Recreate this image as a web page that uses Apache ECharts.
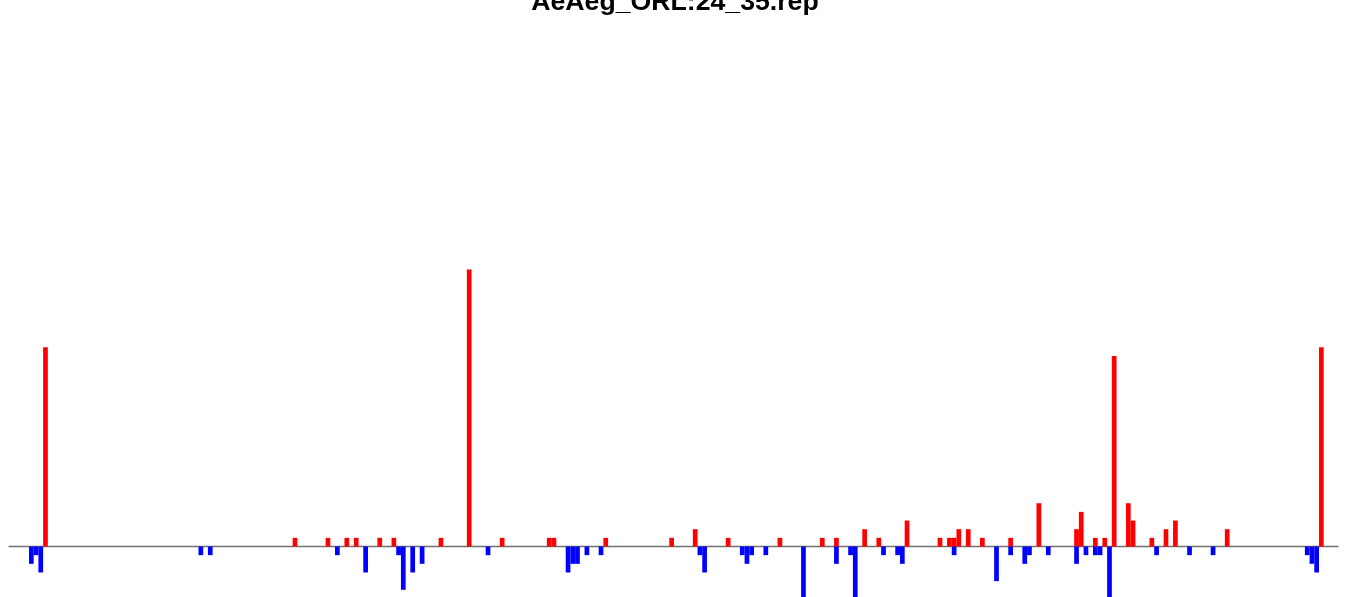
<!DOCTYPE html>
<html>
<head>
<meta charset="utf-8">
<script src="https://cdn.jsdelivr.net/npm/echarts@6/dist/echarts.min.js"></script>
<style>
html,body{margin:0;padding:0;background:#fff;}
#chart{width:1350px;height:597px;}
</style>
</head>
<body>
<div id="chart"></div>
<script>
// Chart data (positions along the sequence, counts)
const titleText = "AeAeg_ORL:24_35.rep";
const upPos = [3, 56, 63, 67, 69, 74, 77, 87, 93, 100, 110, 111, 122, 136, 141, 148, 159, 168, 171, 177, 180, 186, 193, 195, 196, 197, 199, 202, 208, 214, 222, 223, 226, 228, 230, 233, 234, 238, 241, 243, 254, 274];
const upVal = [23, 1, 1, 1, 1, 1, 1, 1, 32, 1, 1, 1, 1, 1, 2, 1, 1, 1, 1, 2, 1, 3, 1, 1, 1, 2, 2, 1, 1, 5, 2, 4, 1, 1, 22, 5, 3, 1, 2, 3, 2, 23];
const downPos = [0, 1, 2, 36, 38, 65, 71, 78, 79, 81, 83, 97, 114, 115, 116, 118, 121, 142, 143, 151, 152, 153, 156, 164, 171, 174, 175, 181, 184, 185, 196, 205, 208, 211, 212, 216, 222, 224, 226, 227, 229, 239, 246, 251, 271, 272, 273];
const downVal = [-2, -1, -3, -1, -1, -1, -3, -1, -5, -3, -2, -1, -3, -2, -2, -1, -1, -1, -3, -1, -2, -1, -1, -6, -2, -1, -6, -1, -1, -2, -1, -4, -1, -2, -1, -1, -2, -1, -1, -1, -6, -1, -1, -1, -1, -2, -3];

const upData = upPos.map((p, i) => [p, upVal[i]]);
const downData = downPos.map((p, i) => [p, downVal[i]]);

const chart = echarts.init(document.getElementById('chart'), null, {renderer: 'canvas'});
chart.setOption({
  animation: false,
  backgroundColor: '#ffffff',
  title: {
    text: titleText,
    left: 'center',
    top: -16,
    textStyle: {
      fontFamily: 'Liberation Sans, Arial, sans-serif',
      fontWeight: 'bold',
      fontSize: 26.67,
      color: '#000000'
    }
  },
  grid: {left: 9, right: 12, top: 0, bottom: 0, containLabel: false},
  xAxis: {
    type: 'value',
    min: -4.748,
    max: 277.536,
    axisLine: {show: true, onZero: true, lineStyle: {color: '#707070', width: 1.3}},
    axisTick: {show: false},
    axisLabel: {show: false},
    splitLine: {show: false}
  },
  yAxis: {
    type: 'value',
    min: -5.831,
    max: 63.106,
    show: false,
    splitLine: {show: false}
  },
  series: [
    {
      type: 'bar',
      name: 'up',
      data: upData,
      barWidth: 4.708,
      barGap: '-100%',
      itemStyle: {color: '#ff0000'},
      clip: true
    },
    {
      type: 'bar',
      name: 'down',
      data: downData,
      barWidth: 4.708,
      barGap: '-100%',
      itemStyle: {color: '#0000ff'},
      clip: true
    }
  ]
});
</script>
</body>
</html>
